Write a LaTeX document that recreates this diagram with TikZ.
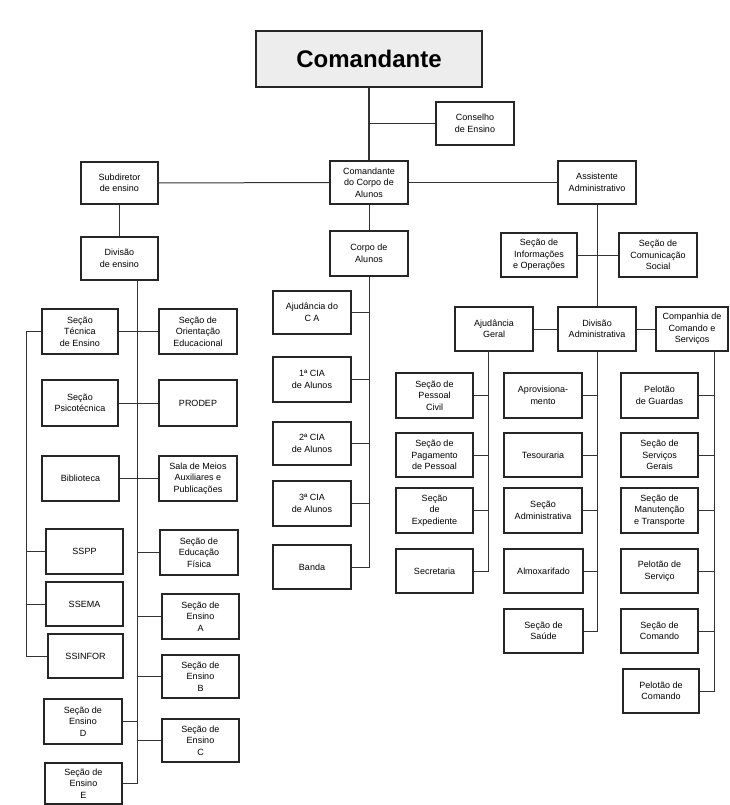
\documentclass[tikz,border=0pt]{standalone}
\usepackage{fontspec}
\setmainfont{Liberation Sans}
\newcommand\obox[6]{\node[box, minimum width={(#4-#2)*1pt}, minimum height={(#5-#3)*1pt}] (#1) at ({(#2+#4)/2},{(#3+#5)/2}) {#6};}
\begin{document}
\begin{tikzpicture}[x=1pt,y=-1pt,
 box/.style={draw=black!85, line width=1.1pt, fill=white, align=center, inner sep=0pt, font=\fontsize{9}{11.5}\selectfont},
 conn/.style={draw=black!80, line width=1pt}]
\useasboundingbox (0,0) rectangle (729,805);
\fill[white] (0,0) rectangle (729,805);
% top
\node[box, fill=gray!14, minimum width=226pt, minimum height=56pt, font=\bfseries\fontsize{24}{28}\selectfont] (cmd) at (369,59) {Comandante};
\obox{cons}{436}{102}{514}{145}{Conselho\\de Ensino}
\obox{sub}{81}{162}{158}{204}{Subdiretor\\de ensino}
\obox{dive}{81}{237}{158}{280}{Divisão\\de ensino}
\obox{cca}{330}{161}{408}{204}{Comandante\\do Corpo de\\Alunos}
\obox{ca}{330}{231}{408}{276}{Corpo de\\Alunos}
\obox{asa}{558}{161}{636}{204}{Assistente\\Administrativo}
\obox{sio}{501}{233}{577}{277}{Seção de\\Informações\\e Operações}
\obox{scs}{619}{233}{697}{277}{Seção de\\Comunicação\\Social}
\obox{ag}{455}{307}{533}{351}{Ajudância\\Geral}
\obox{da}{558}{307}{636}{351}{Divisão\\Administrativa}
\obox{ccs}{656}{307}{728}{351}{Companhia de\\Comando e\\Serviços}
% left
\obox{ste}{42}{309}{118}{354}{Seção\\Técnica\\de Ensino}
\obox{soe}{159}{309}{237}{354}{Seção de\\Orientação\\Educacional}
\obox{psi}{42}{380}{118}{426}{Seção\\Psicotécnica}
\obox{prodep}{159}{380}{237}{426}{PRODEP}
\obox{bib}{42}{456}{119}{501}{Biblioteca}
\obox{sala}{159}{456}{237}{501}{Sala de Meios\\Auxiliares e\\Publicações}
\obox{sspp}{46}{529}{123}{574}{SSPP}
\obox{ef}{160}{530}{238}{575}{Seção de\\Educação\\Física}
\obox{ssema}{46}{582}{123}{626}{SSEMA}
\obox{ssinf}{48}{634}{123}{678}{SSINFOR}
\obox{sea}{162}{594}{239}{639}{Seção de\\Ensino\\A}
\obox{seb}{162}{655}{239}{698}{Seção de\\Ensino\\B}
\obox{sed}{44}{699}{122}{744}{Seção de\\Ensino\\D}
\obox{sec}{162}{719}{239}{762}{Seção de\\Ensino\\C}
\obox{see}{45}{763}{122}{804}{Seção de\\Ensino\\E}
% middle
\obox{ajca}{273}{291}{351}{334}{Ajudância do\\C A}
\obox{cia1}{273}{357}{351}{402}{1ª CIA\\de Alunos}
\obox{cia2}{273}{422}{351}{465}{2ª CIA\\de Alunos}
\obox{cia3}{273}{481}{351}{526}{3ª CIA\\de Alunos}
\obox{banda}{273}{545}{351}{589}{Banda}
% right
\obox{spc}{396}{373}{473}{418}{Seção de\\Pessoal\\Civil}
\obox{spp}{396}{433}{473}{477}{Seção de\\Pagamento\\de Pessoal}
\obox{sex}{396}{488}{473}{533}{Seção\\de\\Expediente}
\obox{secr}{396}{549}{473}{593}{Secretaria}
\obox{apr}{504}{373}{582}{418}{Aprovisiona-\\mento}
\obox{tes}{504}{433}{582}{477}{Tesouraria}
\obox{sadm}{504}{488}{582}{533}{Seção\\Administrativa}
\obox{alm}{504}{549}{583}{593}{Almoxarifado}
\obox{sau}{504}{609}{583}{653}{Seção de\\Saúde}
\obox{pg}{621}{373}{698}{418}{Pelotão\\de Guardas}
\obox{ssg}{621}{433}{698}{477}{Seção de\\Serviços\\Gerais}
\obox{smt}{621}{488}{698}{533}{Seção de\\Manutenção\\e Transporte}
\obox{ps}{621}{549}{698}{593}{Pelotão de\\Serviço}
\obox{sc}{621}{609}{698}{653}{Seção de\\Comando}
\obox{pc}{623}{669}{699}{713}{Pelotão de\\Comando}
% connectors
\draw[conn, line width=2pt] (cmd.south) -- (cca.north);
\draw[conn] (cons.west) -- (cons.west -| cmd.south);
\draw[conn] (sub.east) -- (cca.west);
\draw[conn] (cca.east) -- (asa.west);
\draw[conn] (sub.south) -- (dive.north);
\draw[conn] (cca.south) -- (ca.north);
\draw[conn] (asa.south) -- (da.north);
\draw[conn] (sio.east) -- (scs.west);
\draw[conn] (ag.east) -- (da.west);
\draw[conn] (da.east) -- (ccs.west);
% left trunk
\coordinate (lt) at (137,280);
\coordinate (lb) at (26,331);
\draw[conn] (lt) -- (lt |- see.east) -- (see.east);
\draw[conn] (ste.east) -- (soe.west);
\draw[conn] (psi.east) -- (prodep.west);
\draw[conn] (bib.east) -- (sala.west);
\foreach \n in {ef,sea,seb,sec} \draw[conn] (\n.west) -- (\n.west -| lt);
\draw[conn] (sed.east) -- (sed.east -| lt);
\draw[conn] (ste.west) -- (ste.west -| lb) -- (ssinf.west -| lb) -- (ssinf.west);
\foreach \n in {sspp,ssema} \draw[conn] (\n.west) -- (\n.west -| lb);
% middle trunk
\draw[conn] (ca.south) -- (ca.south |- banda.east) -- (banda.east);
\foreach \n in {ajca,cia1,cia2,cia3} \draw[conn] (\n.east) -- (\n.east -| ca.south);
% right trunks
\coordinate (agt) at (488,351);
\draw[conn] (agt) -- (agt |- secr.east) -- (secr.east);
\foreach \n in {spc,spp,sex} \draw[conn] (\n.east) -- (\n.east -| agt);
\draw[conn] (da.south) -- (da.south |- sau.east) -- (sau.east);
\foreach \n in {apr,tes,sadm,alm} \draw[conn] (\n.east) -- (\n.east -| da.south);
\coordinate (ccst) at (714,351);
\draw[conn] (ccst) -- (ccst |- pc.east) -- (pc.east);
\foreach \n in {pg,ssg,smt,ps,sc} \draw[conn] (\n.east) -- (\n.east -| ccst);
\end{tikzpicture}
\end{document}
